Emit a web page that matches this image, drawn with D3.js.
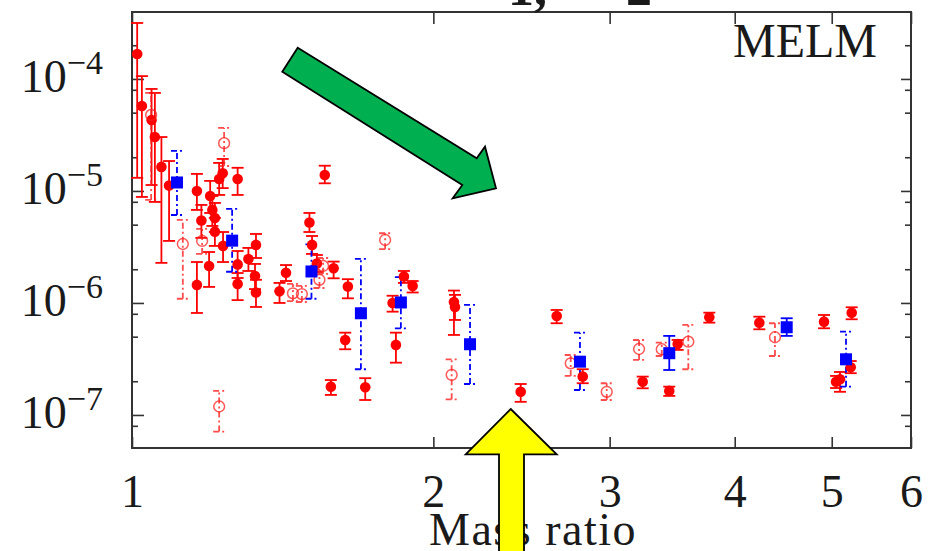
<!DOCTYPE html>
<html>
<head>
  <meta charset="utf-8">
  <title>MELM mass ratio</title>
  <style>
    body { margin: 0; background: #fff; }
    svg { display: block; }
    text { font-family: "Liberation Serif", "DejaVu Serif", serif; fill: #1a1a1a; }
  </style>
</head>
<body>
<svg width="929" height="551"></svg>
<script src="https://d3js.org/d3.v7.min.js"></script>
<script>

  // red filled circles, solid error bars
  var fullX = [1.012, 1.023, 1.046, 1.054, 1.070, 1.089, 1.161, 1.173, 1.197, 1.203, 1.210, 1.210, 1.222, 1.232, 1.275,
    1.161, 1.194, 1.233, 1.275, 1.307, 1.330, 1.327, 1.275, 1.330, 1.404, 1.425, 1.504, 1.513, 1.530, 1.558,
    1.590, 1.643, 1.633, 1.580, 1.710, 1.869, 1.907, 1.821, 1.835, 2.097, 2.102, 2.445, 2.656, 2.820, 3.237,
    3.441, 3.508, 3.773, 4.233, 4.912, 5.235, 5.223, 5.050, 5.096]
  var fullY = [1.67e-4, 5.74e-5, 4.30e-5, 3.03e-5, 1.64e-5, 1.12e-5, 1.00e-5, 5.45e-6, 9.02e-6, 6.77e-6, 5.74e-6, 4.33e-6, 1.28e-5, 1.44e-5, 1.28e-5,
    1.45e-6, 2.14e-6, 3.23e-6, 2.21e-6, 2.47e-6, 3.30e-6, 1.74e-6, 1.48e-6, 1.24e-6, 1.27e-6, 1.86e-6, 5.23e-6, 3.30e-6, 2.25e-6, 1.39e-5,
    2.04e-6, 1.40e-6, 4.67e-7, 1.79e-7, 1.77e-7, 1.72e-6, 1.42e-6, 1.00e-6, 4.22e-7, 1.02e-6, 9.21e-7, 1.61e-7, 7.65e-7, 2.20e-7, 1.98e-7,
    1.64e-7, 4.30e-7, 7.45e-7, 6.67e-7, 6.81e-7, 8.19e-7, 2.67e-7, 1.98e-7, 2.08e-7]
  var fullLo = [1.31e-5, 8.84e-6, 1.13e-5, 7.98e-6, 2.28e-6, 3.58e-6, 6.77e-6, 3.81e-6, 6.36e-6, 4.87e-6, 4.30e-6, 3.23e-6, 9.21e-6, 1.06e-5, 9.21e-6,
    8.14e-7, 1.39e-6, 2.32e-6, 1.67e-6, 1.93e-6, 2.52e-6, 1.33e-6, 1.06e-6, 9.21e-7, 1.00e-6, 1.57e-6, 4.30e-6, 2.74e-6, 1.89e-6, 1.17e-5,
    1.66e-6, 1.10e-6, 3.86e-7, 1.51e-7, 1.36e-7, 1.51e-6, 1.24e-6, 8.36e-7, 2.93e-7, 5.18e-7, 7.05e-7, 1.31e-7, 6.59e-7, 1.92e-7, 1.73e-7,
    1.48e-7, 3.81e-7, 6.67e-7, 5.82e-7, 5.94e-7, 7.15e-7, 2.36e-7, 1.74e-7, 1.61e-7]
  var fullHi = [3.16e-4, 1.06e-4, 8.14e-5, 7.50e-5, 3.03e-5, 1.85e-5, 1.42e-5, 7.50e-6, 1.23e-5, 9.02e-6, 7.81e-6, 5.74e-6, 1.78e-5, 1.93e-5, 1.61e-5,
    2.32e-6, 2.85e-6, 4.30e-6, 2.91e-6, 3.10e-6, 4.13e-6, 2.23e-6, 1.85e-6, 1.61e-6, 1.51e-6, 2.18e-6, 6.36e-6, 3.96e-6, 2.68e-6, 1.68e-5,
    2.34e-6, 1.63e-6, 5.43e-7, 2.05e-7, 2.13e-7, 1.93e-6, 1.57e-6, 1.16e-6, 5.43e-7, 1.29e-6, 1.18e-6, 1.89e-7, 8.66e-7, 2.56e-7, 2.20e-7,
    1.79e-7, 4.67e-7, 8.19e-7, 7.54e-7, 7.81e-7, 9.15e-7, 3.03e-7, 2.23e-7, 2.42e-7]

  // red open circles, dash-dot error bars
  var openX = [1.045, 1.236, 1.124, 1.175, 1.222, 1.448, 1.478, 1.539, 1.552, 1.790, 2.086, 2.743, 2.980, 3.210, 3.382, 3.595, 4.388]
  var openY = [4.77e-5, 2.67e-5, 3.36e-6, 3.58e-6, 1.19e-7, 1.22e-6, 1.20e-6, 1.61e-6, 2.14e-6, 3.65e-6, 2.28e-7, 2.89e-7, 1.61e-7, 3.88e-7, 3.86e-7, 4.51e-7, 4.94e-7]
  var openLo = [8.31e-6, 1.67e-5, 1.09e-6, 2.74e-6, 7.10e-8, 1.04e-6, 1.02e-6, 1.36e-6, 1.82e-6, 3.02e-6, 1.38e-7, 2.23e-7, 1.36e-7, 3.10e-7, 3.36e-7, 2.56e-7, 3.36e-7]
  var openHi = [7.50e-5, 3.65e-5, 5.51e-6, 4.58e-6, 1.64e-7, 1.48e-6, 1.42e-6, 1.97e-6, 2.52e-6, 4.19e-6, 3.14e-7, 3.43e-7, 1.92e-7, 4.67e-7, 4.42e-7, 6.36e-7, 6.59e-7]

  // blue squares
  var blueX = [1.109, 1.259, 1.511, 1.693, 1.856, 2.176, 2.802, 3.441, 4.508, 5.167]
  var blueY = [1.19e-5, 3.60e-6, 1.91e-6, 8.09e-7, 1.01e-6, 4.28e-7, 2.99e-7, 3.56e-7, 6.07e-7, 3.14e-7]
  var blueLo = [6.10e-6, 1.90e-6, 1.09e-6, 2.56e-7, 5.94e-7, 1.89e-7, 1.67e-7, 2.52e-7, 5.08e-7, 1.79e-7]
  var blueHi = [2.28e-5, 6.91e-6, 3.34e-6, 2.47e-6, 1.70e-6, 9.60e-7, 5.43e-7, 5.08e-7, 7.30e-7, 5.54e-7]
  var blueSolid = [false, false, false, false, false, false, false, true, true, false]

  var xTicks = [1, 2, 3, 4, 5, 6]
  var yDecades = [1e-7, 1e-6, 1e-5, 1e-4]
  var yMinor = [8e-8, 2e-7, 5e-7, 8e-7, 2e-6, 5e-6, 8e-6, 2e-5, 5e-5, 8e-5, 2e-4]
  var xLabel = "Mass ratio"
  var panelLabel = "MELM"

  function zip(xs, ys, lo, hi) {
    return xs.map(function (x, i) {
      return {x: x, y: ys[i], lo: lo[i], hi: hi[i], solid: true}
    })
  }

  var full = zip(fullX, fullY, fullLo, fullHi)
  var open = zip(openX, openY, openLo, openHi)
  var blue = zip(blueX, blueY, blueLo, blueHi)
  open.forEach(function (d) { d.solid = false })
  blue.forEach(function (d, i) { d.solid = blueSolid[i] })

  var svg = d3.select("svg"),
    margin = {top: 12, right: 18, bottom: 103, left: 132},
    width = +svg.attr("width") - margin.left - margin.right,
    height = +svg.attr("height") - margin.top - margin.bottom

  var x = d3.scaleLog().domain([1, 6]).range([margin.left, margin.left + width])
  var y = d3.scaleLog().domain([5.07e-8, 3.96e-4]).range([margin.top + height, margin.top])

  // plot box edges (window.top is reserved, so no plain "top")
  var boxL = margin.left, boxR = margin.left + width,
    boxT = margin.top, boxB = margin.top + height

  // ticks, all pointing inwards
  function axisStyle(sel) {
    sel.select(".domain").remove()
    sel.selectAll(".tick line").attr("stroke", "#333").attr("stroke-width", 1.6)
  }

  svg.append("g").attr("transform", "translate(" + boxL + ",0)")
    .call(d3.axisLeft(y).tickValues(yDecades).tickSize(-12).tickFormat(""))
    .call(axisStyle)
  svg.append("g").attr("transform", "translate(" + boxL + ",0)")
    .call(d3.axisLeft(y).tickValues(yMinor).tickSize(-6).tickFormat(""))
    .call(axisStyle)
  svg.append("g").attr("transform", "translate(" + boxR + ",0)")
    .call(d3.axisRight(y).tickValues(yDecades).tickSize(-10).tickFormat(""))
    .call(axisStyle)
  svg.append("g").attr("transform", "translate(" + boxR + ",0)")
    .call(d3.axisRight(y).tickValues(yMinor).tickSize(-6).tickFormat(""))
    .call(axisStyle)

  var bottomAxis = svg.append("g").attr("transform", "translate(0," + boxB + ")")
    .call(d3.axisBottom(x).tickValues(xTicks).tickSize(-11).tickPadding(26).tickFormat(d3.format("d")))
    .call(axisStyle)
  bottomAxis.selectAll("text")
    .attr("fill", "#1a1a1a")
    .style("font-family", '"Liberation Serif", serif')
    .style("font-size", "46px")

  svg.append("g").attr("transform", "translate(0," + boxT + ")")
    .call(d3.axisTop(x).tickValues(xTicks).tickSize(-12).tickFormat(""))
    .call(axisStyle)

  // y labels 10^-n
  var yLab = svg.append("g").selectAll("text")
    .data(yDecades)
    .enter().append("text")
    .attr("x", 103)
    .attr("y", function (d) { return y(d) + 13 })
    .attr("text-anchor", "end")
    .style("font-size", "46px")
  yLab.append("tspan").text("10")
  yLab.append("tspan")
    .attr("dy", -18)
    .style("font-size", "34px")
    .text(function (d) { return "\u2212" + Math.round(-Math.log10(d)) })

  // frame
  svg.append("rect")
    .attr("x", boxL).attr("y", boxT)
    .attr("width", width).attr("height", height)
    .attr("fill", "none")
    .attr("stroke", "#333")
    .attr("stroke-width", 2)

  svg.append("text")
    .attr("x", 533)
    .attr("y", 545)
    .attr("text-anchor", "middle")
    .style("font-size", "46px")
    .style("letter-spacing", "1.5px")
    .text(xLabel)

  svg.append("text")
    .attr("x", 877)
    .attr("y", 57)
    .attr("text-anchor", "end")
    .style("font-size", "48px")
    .text(panelLabel)

  // cut-off title at the very top
  svg.append("text").attr("x", 508).attr("y", 5)
    .style("font-size", "52px").style("font-weight", "bold").attr("fill", "#000").text("1,")
  svg.append("text").attr("x", 626).attr("y", 5)
    .style("font-size", "52px").style("font-weight", "bold").attr("fill", "#000").text("2")

  // error bars
  var cap = 6

  function errorBars(data, color, dash, opacity) {
    var g = svg.append("g")
      .attr("stroke", color)
      .attr("stroke-width", 1.8)
      .attr("opacity", opacity)
    var bars = g.selectAll("g").data(data).enter().append("g")
      .attr("stroke-dasharray", function (d) { return d.solid ? null : dash })
    bars.append("line")
      .attr("x1", function (d) { return x(d.x) })
      .attr("x2", function (d) { return x(d.x) })
      .attr("y1", function (d) { return y(d.lo) })
      .attr("y2", function (d) { return y(d.hi) })
    bars.append("line")
      .attr("x1", function (d) { return x(d.x) - cap })
      .attr("x2", function (d) { return x(d.x) + cap })
      .attr("y1", function (d) { return y(d.lo) })
      .attr("y2", function (d) { return y(d.lo) })
    bars.append("line")
      .attr("x1", function (d) { return x(d.x) - cap })
      .attr("x2", function (d) { return x(d.x) + cap })
      .attr("y1", function (d) { return y(d.hi) })
      .attr("y2", function (d) { return y(d.hi) })
  }

  errorBars(full, "#ff0000", null, 1)
  errorBars(open, "#ff2020", "6,3,2,3", 0.8)
  errorBars(blue, "#0000ff", "6,3,2,3", 1)

  svg.append("g").selectAll("circle")
    .data(full)
    .enter().append("circle")
    .attr("cx", function (d) { return x(d.x) })
    .attr("cy", function (d) { return y(d.y) })
    .attr("r", 5.3)
    .attr("fill", "#ff0000")

  svg.append("g").selectAll("circle")
    .data(open)
    .enter().append("circle")
    .attr("cx", function (d) { return x(d.x) })
    .attr("cy", function (d) { return y(d.y) })
    .attr("r", 5.4)
    .attr("fill", "none")
    .attr("stroke", "#ff2020")
    .attr("stroke-width", 1.5)
    .attr("opacity", 0.75)

  var sq = 12
  svg.append("g").selectAll("rect")
    .data(blue)
    .enter().append("rect")
    .attr("x", function (d) { return x(d.x) - sq / 2 })
    .attr("y", function (d) { return y(d.y) - sq / 2 })
    .attr("width", sq)
    .attr("height", sq)
    .attr("fill", "#0000ff")

  // overlaid arrows
  var greenArrow = [[297.7, 47.7], [476.7, 158.3], [485, 146.7], [496, 188.3], [452.7, 198.3], [462.3, 185], [282.3, 71.7]]
  var yellowArrow = [[510.7, 409], [556.7, 454.3], [524, 454.3], [524, 560], [499, 560], [499, 454.3], [465.7, 454.3]]

  svg.append("polygon")
    .attr("points", greenArrow.join(" "))
    .attr("fill", "#00b050")
    .attr("stroke", "#000")
    .attr("stroke-width", 1.8)

  svg.append("polygon")
    .attr("points", yellowArrow.join(" "))
    .attr("fill", "#ffff00")
    .attr("stroke", "#000")
    .attr("stroke-width", 1.8)

</script>
</body>
</html>
